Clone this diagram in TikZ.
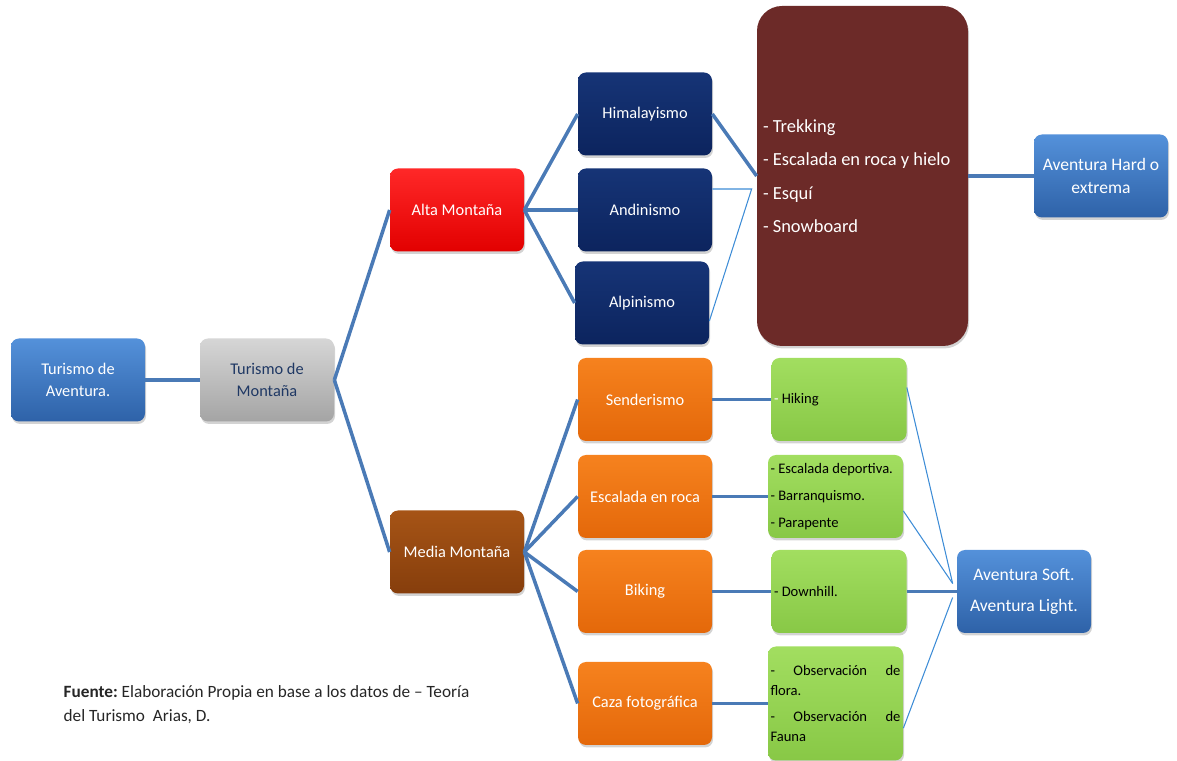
\documentclass[tikz,border=0pt]{standalone}
\usepackage{fontspec}
\setmainfont{Carlito}
\usetikzlibrary{shapes,shadows,calc}
\definecolor{linkblue}{RGB}{74,122,182}
\definecolor{thinblue}{RGB}{61,140,214}
\definecolor{navytext}{RGB}{31,56,100}
\tikzstyle{link} = [draw, color=linkblue, line width=2pt]
\tikzstyle{thinlink} = [draw, color=thinblue, line width=0.6pt]
\tikzstyle{box} = [rectangle, rounded corners=0.16cm, minimum width=2.68cm, minimum height=1.66cm, align=center, text=white, font=\fontsize{9.3}{12.5}\selectfont, drop shadow={opacity=0.35, shadow xshift=0.6pt, shadow yshift=-1.4pt}]
\tikzstyle{bluebox} = [box, top color={rgb,255:red,84;green,145;blue,218}, bottom color={rgb,255:red,46;green,98;blue,168}]
\tikzstyle{graybox} = [box, text=navytext, top color={rgb,255:red,214;green,214;blue,214}, bottom color={rgb,255:red,164;green,164;blue,164}]
\tikzstyle{redbox} = [box, top color={rgb,255:red,255;green,40;blue,40}, bottom color={rgb,255:red,226;green,0;blue,0}]
\tikzstyle{navybox} = [box, top color={rgb,255:red,22;green,52;blue,118}, bottom color={rgb,255:red,12;green,36;blue,94}]
\tikzstyle{brownbox} = [box, top color={rgb,255:red,166;green,84;blue,22}, bottom color={rgb,255:red,134;green,62;blue,12}]
\tikzstyle{orangebox} = [box, top color={rgb,255:red,246;green,130;blue,30}, bottom color={rgb,255:red,228;green,104;blue,10}]
\tikzstyle{greenbox} = [box, text=black, align=flush left, text width=2.6cm, inner sep=0.05cm, font=\fontsize{8.3}{15.4}\selectfont, top color={rgb,255:red,162;green,222;blue,96}, bottom color={rgb,255:red,136;green,200;blue,70}]
\tikzstyle{maroonbox} = [box, rounded corners=0.5cm, minimum width=4.22cm, minimum height=6.8cm, align=flush left, text width=3.98cm, inner sep=0.12cm, font=\fontsize{10.5}{19}\selectfont, fill={rgb,255:red,108;green,42;blue,40}]

\begin{document}
\begin{tikzpicture}[node distance = 3.8cm]
        \useasboundingbox (0,0) rectangle (23.54,-15.22);
        % left part
        \node[bluebox] (ta) at (1.56,-7.60) {Turismo de\\Aventura.};
        \node[graybox, right of=ta, node distance=3.78cm] (tm) {Turismo de\\Montaña};
        \node[redbox, right of=tm, yshift=3.4cm] (alta) {Alta Montaña};
        \node[brownbox, below of=alta, node distance=6.84cm] (media) {Media Montaña};
        % alta montana
        \node[navybox, right of=alta, node distance=3.76cm] (andi) {Andinismo};
        \node[navybox, above of=andi, node distance=1.92cm] (hima) {Himalayismo};
        \node[navybox, below of=andi, node distance=1.86cm, xshift=-0.06cm] (alpi) {Alpinismo};
        \node[maroonbox, right of=andi, node distance=4.35cm, yshift=0.68cm] (trek) {- Trekking\\- Escalada en roca y hielo\\- Esquí\\- Snowboard};
        \node[bluebox, right of=trek, node distance=4.77cm, font=\fontsize{10}{13}\selectfont] (hard) {Aventura Hard o\\extrema};
        % media montana
        \node[orangebox, right of=media, node distance=3.76cm, yshift=3.05cm] (send) {Senderismo};
        \node[orangebox, below of=send, node distance=1.94cm] (escal) {Escalada en roca};
        \node[orangebox, below of=escal, node distance=1.90cm] (bik) {Biking};
        \node[orangebox, below of=bik, node distance=2.24cm] (caza) {Caza fotográfica};
        \node[greenbox, right of=send, node distance=3.88cm] (hik) {\textcolor{white}{-} Hiking};
        \node[greenbox, right of=escal, node distance=3.81cm] (dep) {- Escalada deportiva.\\- Barranquismo.\\- Parapente};
        \node[greenbox, right of=bik, node distance=3.88cm] (down) {- Downhill.};
        \node[greenbox, right of=caza, node distance=3.81cm, minimum height=2.28cm, font=\fontsize{8.3}{11}\selectfont] (obs) {-\hfill Observación\hfill de\\flora.\\[4pt]-\hfill Observación\hfill de\\Fauna};
        \node[bluebox, right of=down, node distance=3.70cm, font=\fontsize{10}{18}\selectfont] (soft) {Aventura Soft.\\Aventura Light.};
        \node[anchor=west, align=left, text=black!85, font=\fontsize{9.8}{13.6}\selectfont] (fuente) at (1.15,-14.10) {\textbf{Fuente:}\ Elaboración Propia en base a los datos de -- Teoría\\del Turismo~~Arias, D.};
        % hubs of the thin lines
        \coordinate (hubA) at ($(trek.west)+(-0.1,-0.26)$);
        \coordinate (hubS) at ($(soft.west)+(-0.08,0.16)$);
        \coordinate (hubT) at ($(soft.west)+(-0.08,-0.12)$);
        % connectors
        \path[link] (ta) -- (tm);
        \path[link] (tm.east) -- (alta.west);
        \path[link] (tm.east) -- (media.west);
        \path[link] (alta.east) -- (hima.west);
        \path[link] (alta.east) -- (andi.west);
        \path[link] (alta.east) -- (alpi.west);
        \path[link] (hima.east) -- (trek.west);
        \path[thinlink] (andi.east |- hubA) -- (hubA) -- (alpi.-15);
        \path[link] (trek.east) -- (hard.west);
        \path[link] (media.east) -- (send.west);
        \path[link] (media.east) -- (escal.west);
        \path[link] (media.east) -- (bik.west);
        \path[link] (media.east) -- (caza.west);
        \path[link] (send) -- (hik);
        \path[link] (escal) -- (dep);
        \path[link] (bik) -- (down);
        \path[link] (caza) -- (obs);
        \path[thinlink] (hik.10) -- (hubS);
        \path[thinlink] (dep.-12) -- (hubS);
        \path[link] (down.east) -- (soft.west);
        \path[thinlink] (obs.-20) -- (hubT);
    \end{tikzpicture}
\end{document}
